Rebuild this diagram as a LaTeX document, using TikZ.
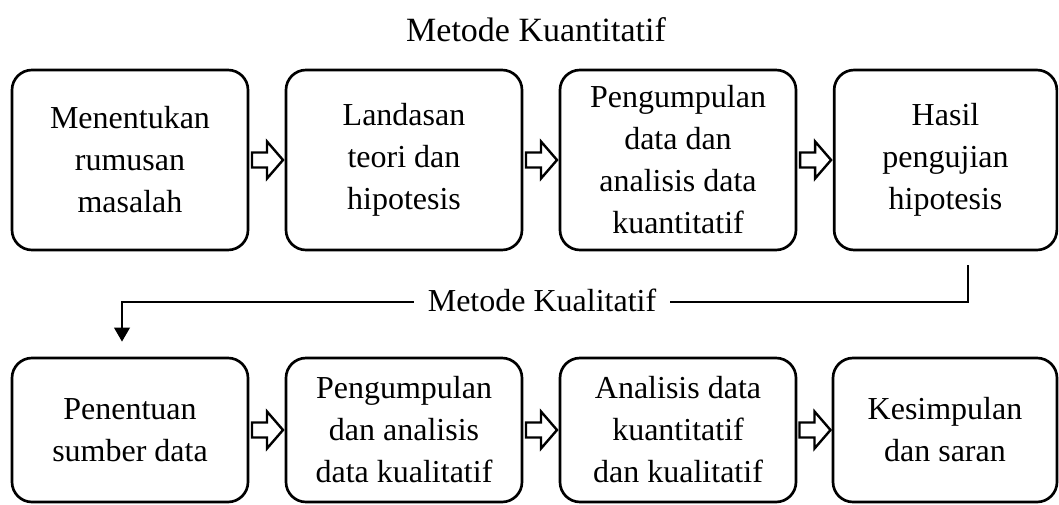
\documentclass[tikz,border=0pt]{standalone}
\usepackage{fontspec}
\setmainfont{Liberation Serif}
\usetikzlibrary{arrows.meta,calc}
\begin{document}
\begin{tikzpicture}[x=0.75pt,y=-0.75pt,
  box/.style={draw,line width=2pt,rounded corners=15pt,align=center,
    font=\fontsize{24}{31.5}\selectfont,inner sep=0pt},
  toprow/.style={box,minimum width=177pt,minimum height=135pt},
  botrow/.style={box,minimum width=177pt,minimum height=108pt},
  blk/.style={draw,line width=1.8pt,fill=white,line join=miter},
  conn/.style={line width=2pt,-{Triangle[width=11.5pt,length=10.5pt]}},
  lbl/.style={font=\fontsize{24}{30}\selectfont,fill=white,inner xsep=10pt,inner ysep=2pt}]
\useasboundingbox (0,0) rectangle (1059,504);
\node[font=\fontsize{25.5}{30}\selectfont] (title) at (536,30) {Metode Kuantitatif};
% top row
\node[toprow] (t1) at (130,160) {Menentukan\\rumusan\\masalah};
\node[toprow] (t2) at (404,160) {Landasan\\teori dan\\hipotesis};
\node[toprow] (t3) at (678,160) {Pengumpulan\\data dan\\analisis data\\kuantitatif};
\node[toprow,minimum width=167pt] (t4) at (945.5,160) {Hasil\\pengujian\\hipotesis};
% bottom row
\node[botrow] (b1) at (130,430) {Penentuan\\sumber data};
\node[botrow] (b2) at (404,430) {Pengumpulan\\dan analisis\\data kualitatif};
\node[botrow] (b3) at (678,430) {Analisis data\\kuantitatif\\dan kualitatif};
\node[botrow,minimum width=168pt] (b4) at (945,430) {Kesimpulan\\dan saran};
% block arrows
\newcommand\blockarrow[2]{%
  \path ($(#1.east)!0.5!(#2.west)$) coordinate (m);
  \draw[blk] ($(m)+(-15,-7.5)$) -- ($(m)+(0,-7.5)$) -- ($(m)+(0,-18.5)$)
     -- ($(m)+(16,0)$) -- ($(m)+(0,18.5)$) -- ($(m)+(0,7.5)$)
     -- ($(m)+(-15,7.5)$) -- cycle;}
\blockarrow{t1}{t2}
\blockarrow{t2}{t3}
\blockarrow{t3}{t4}
\blockarrow{b1}{b2}
\blockarrow{b2}{b3}
\blockarrow{b3}{b4}
% connector
\coordinate (c1) at ($(t4.south)+(22.5,14)$);
\coordinate (c2) at (122,302);
\coordinate (c3) at ($(b1.north)+(-8,-15)$);
\draw[conn] (c1) |- (c2) -- (c3);
\node[lbl] (kual) at (542,300) {Metode Kualitatif};
\end{tikzpicture}
\end{document}
